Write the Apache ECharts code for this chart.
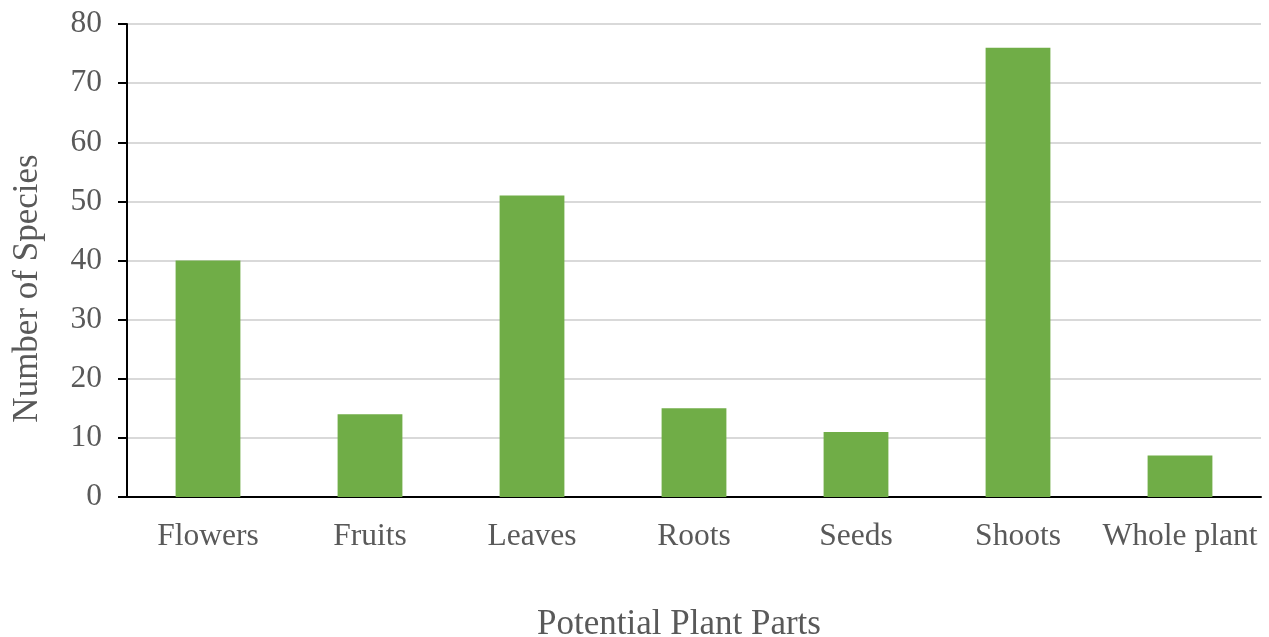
<!DOCTYPE html>
<html>
<head>
<meta charset="utf-8">
<script src="https://cdn.jsdelivr.net/npm/echarts@6/dist/echarts.min.js"></script>
<style>html,body{margin:0;padding:0;background:#fff}#c{width:1269px;height:637px}</style>
</head>
<body>
<div id="c"></div>
<script>
const categories = ['Flowers', 'Fruits', 'Leaves', 'Roots', 'Seeds', 'Shoots', 'Whole plant'];
const speciesCounts = [40, 14, 51, 15, 11, 76, 7];
const yTicks = [0, 10, 20, 30, 40, 50, 60, 70, 80];

const chart = echarts.init(document.getElementById('c'));
const font = '"Liberation Serif", "Times New Roman", serif';
chart.setOption({
  animation: false,
  textStyle: { fontFamily: font },
  grid: { left: 127, right: 8, top: 24, bottom: 140, containLabel: false, outerBoundsMode: 'none' },
  xAxis: {
    type: 'category',
    data: categories,
    name: 'Potential Plant Parts',
    nameLocation: 'middle',
    nameGap: 110,
    nameTextStyle: { fontFamily: font, fontSize: 35, color: '#595959', padding: [0, 30, 0, 0] },
    axisLine: { lineStyle: { color: '#000', width: 2 } },
    axisTick: { show: false },
    axisLabel: { fontFamily: font, fontSize: 31.5, color: '#595959', margin: 24, interval: 0 }
  },
  yAxis: {
    type: 'value',
    min: yTicks[0],
    max: yTicks[yTicks.length - 1],
    interval: 10,
    name: 'Number of Species',
    nameLocation: 'middle',
    nameGap: 82,
    nameTextStyle: { fontFamily: font, fontSize: 35, color: '#595959', padding: [0, 56, 0, 0] },
    axisLine: { show: true, lineStyle: { color: '#000', width: 2 } },
    axisTick: { show: true, length: 9, lineStyle: { color: '#000', width: 2 } },
    axisLabel: { fontFamily: font, fontSize: 31.5, color: '#595959', margin: 25 },
    splitLine: { lineStyle: { color: '#d9d9d9', width: 2 } }
  },
  series: [{
    type: 'bar',
    data: speciesCounts,
    barWidth: '40%',
    itemStyle: { color: '#70AD47' }
  }]
});
</script>
</body>
</html>
